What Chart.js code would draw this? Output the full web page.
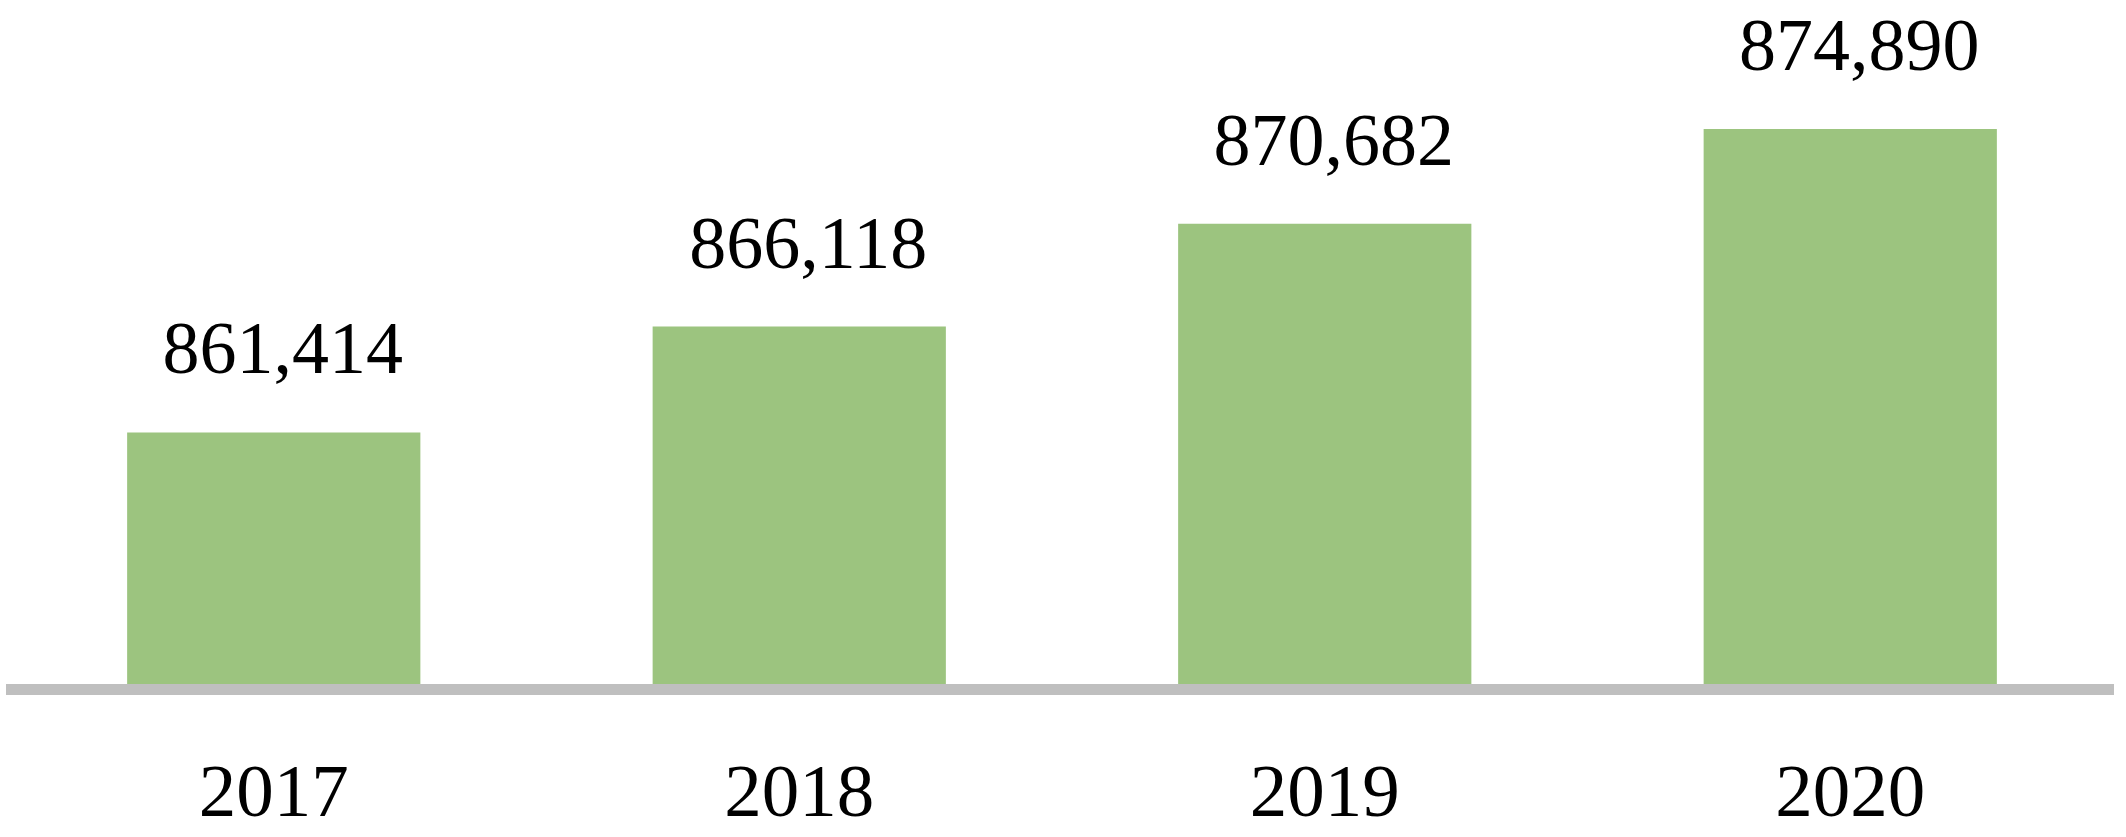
<!DOCTYPE html>
<html>
<head>
<meta charset="utf-8">
<script src="https://cdn.jsdelivr.net/npm/chart.js@4/dist/chart.umd.min.js"></script>
<style>
  html, body { margin: 0; padding: 0; background: #ffffff; }
  #wrap { width: 2126px; height: 837px; position: relative; }
</style>
</head>
<body>
<div id="wrap"><canvas id="c" width="2126" height="837"></canvas></div>
<script>
const categories = ['2017', '2018', '2019', '2020'];
const values = [861414, 866118, 870682, 874890];
const valueLabels = ['861,414', '866,118', '870,682', '874,890'];

const valueLabelPlugin = {
  id: 'valueLabels',
  afterDatasetsDraw(chart) {
    const ctx = chart.ctx;
    const meta = chart.getDatasetMeta(0);
    ctx.save();
    ctx.font = '74px "Liberation Serif"';
    ctx.fillStyle = '#000000';
    ctx.textAlign = 'center';
    ctx.textBaseline = 'alphabetic';
    meta.data.forEach((bar, i) => {
      ctx.fillText(valueLabels[i], bar.x + 9, bar.y - 59);
    });
    ctx.restore();
  }
};

new Chart(document.getElementById('c'), {
  type: 'bar',
  data: {
    labels: categories,
    datasets: [{
      data: values,
      backgroundColor: '#9CC47F',
      borderWidth: 0,
      categoryPercentage: 1.0,
      barPercentage: 0.558
    }]
  },
  options: {
    responsive: false,
    animation: false,
    devicePixelRatio: 1,
    layout: { padding: { top: 14, left: 11, right: 13, bottom: -67 } },
    plugins: { legend: { display: false }, tooltip: { enabled: false } },
    scales: {
      x: {
        grid: { display: false, drawTicks: false },
        border: { display: true, color: '#BFBFBF', width: 11, z: 1 },
        ticks: {
          color: '#000000',
          padding: 66,
          font: { family: '"Liberation Serif"', size: 75, lineHeight: 1.1 }
        }
      },
      y: {
        display: false,
        min: 850000,
        max: 880000
      }
    }
  },
  plugins: [valueLabelPlugin]
});
</script>
</body>
</html>
